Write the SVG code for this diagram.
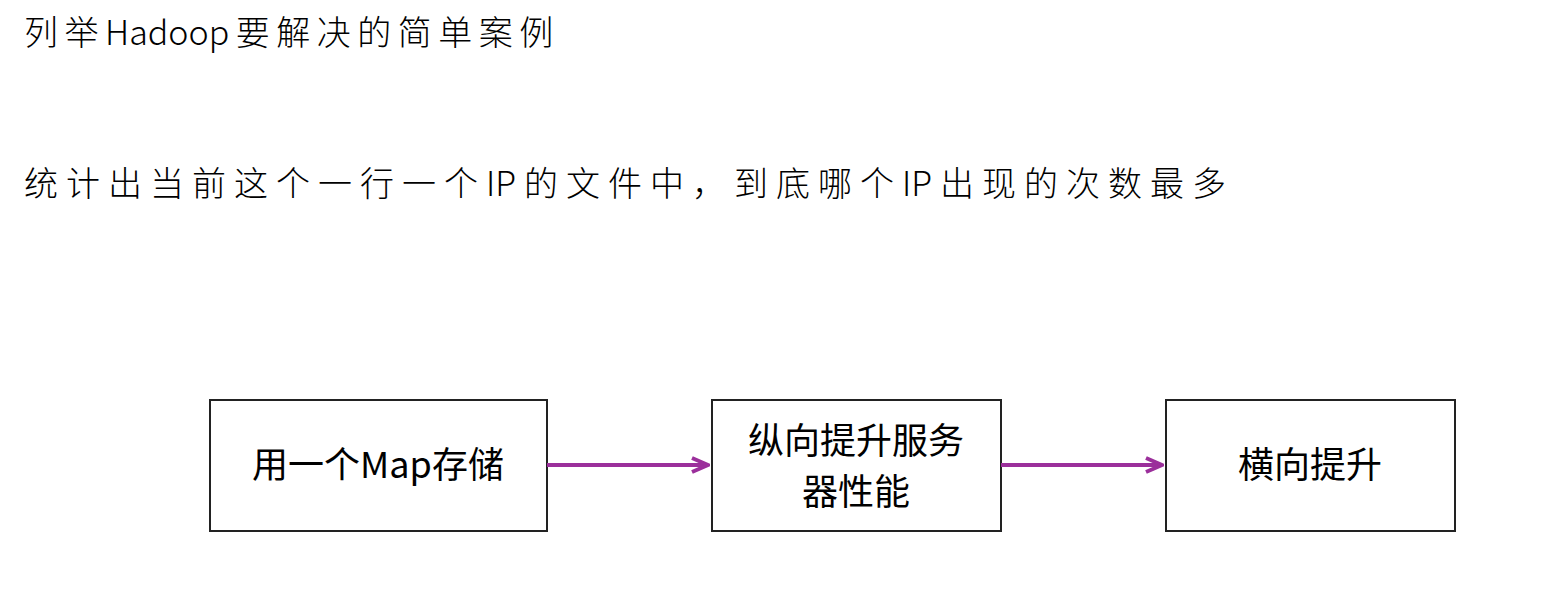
<svg xmlns="http://www.w3.org/2000/svg" width="1544" height="590" viewBox="0 0 1544 590">
<style>
.t{font-family:"Noto Sans CJK SC","Noto Sans",sans-serif;font-size:34px;fill:#000;font-weight:300}
.b{fill:#fff;stroke:#222;stroke-width:2}
.l{font-family:"Noto Sans CJK SC","Noto Sans",sans-serif;font-size:36px;font-weight:400;fill:#000;text-anchor:middle}
.c{stroke:#9b2f9b;stroke-width:4;fill:none;marker-end:url(#a)}
</style>
<defs><marker id="a" viewBox="0 0 20 20" refX="18" refY="10" markerWidth="20" markerHeight="20" orient="auto" markerUnits="userSpaceOnUse"><path d="M2,3 L18,10 L2,17" fill="none" stroke="#9b2f9b" stroke-width="4"/></marker></defs>
<rect width="1544" height="590" fill="#fff"/>
<text class="t" x="24" y="45" letter-spacing="6.5">列举<tspan letter-spacing="0">Hadoo</tspan>p要解决的简单案例</text>
<text class="t" x="24" y="196" letter-spacing="8">统计出当前这个一行一个<tspan letter-spacing="0">I</tspan>P的文件中，到底哪个<tspan letter-spacing="0">I</tspan>P出现的次数最多</text>
<g id="n1"><rect class="b" x="210" y="400" width="337" height="131"/><text class="l" x="378" y="478">用一个Map存储</text></g>
<g id="n2"><rect class="b" x="712" y="400" width="289" height="131"/><text class="l" x="856" y="454">纵向提升服务</text><text class="l" x="856" y="505">器性能</text></g>
<g id="n3"><rect class="b" x="1166" y="400" width="289" height="131"/><text class="l" x="1310" y="478">横向提升</text></g>
<g id="edges"><line class="c" x1="547" y1="465" x2="708" y2="465"/><line class="c" x1="1001" y1="465" x2="1162" y2="465"/></g>
</svg>
